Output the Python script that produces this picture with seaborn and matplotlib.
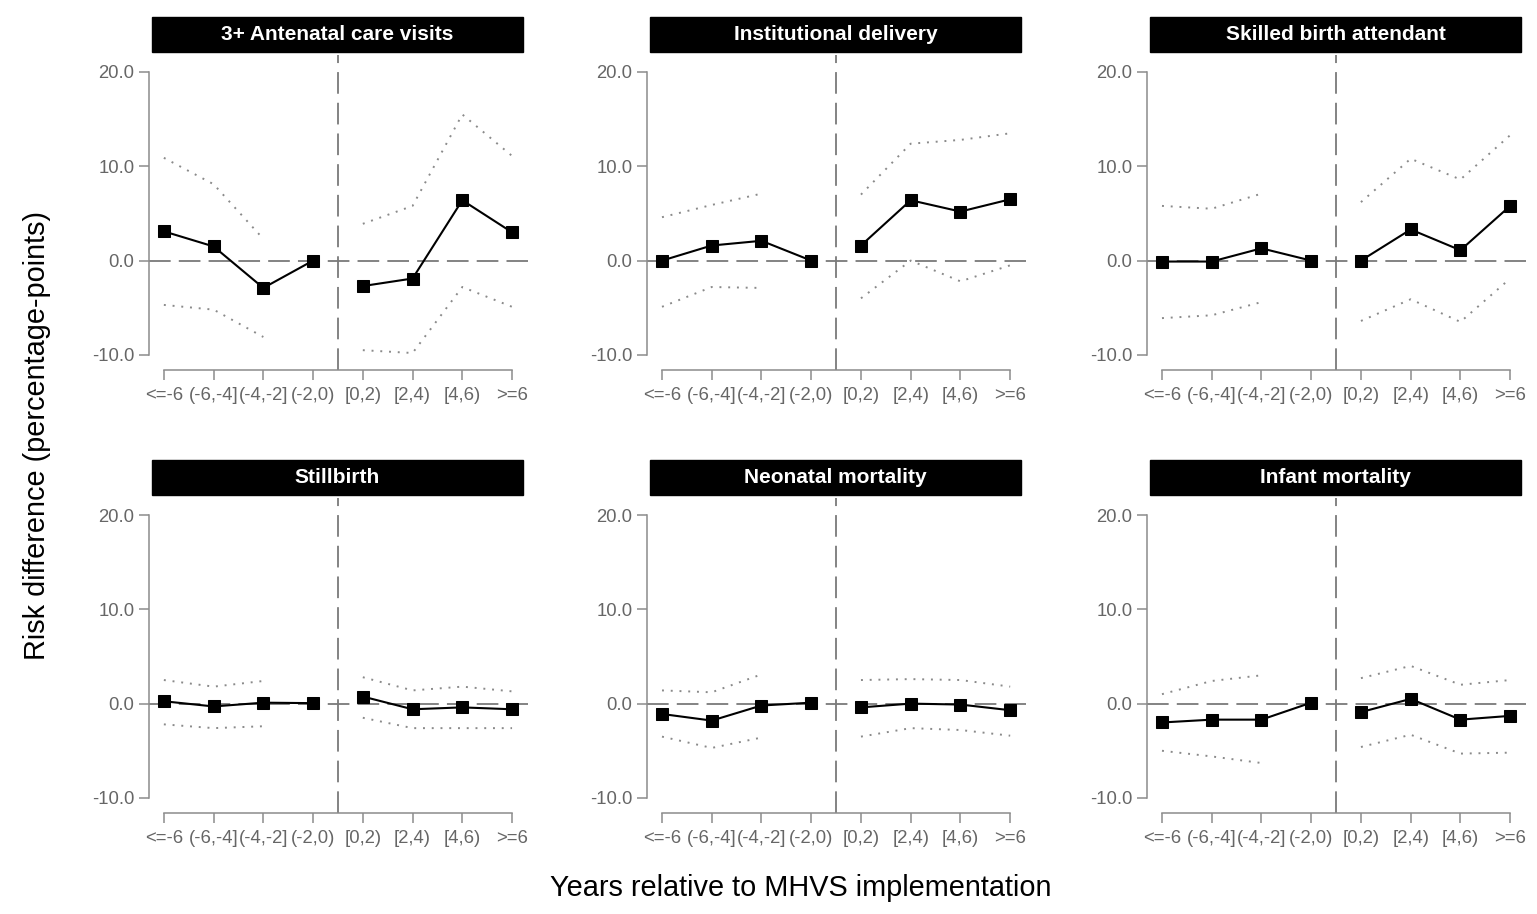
import numpy as np
import pandas as pd
import seaborn as sns
import matplotlib.pyplot as plt
from matplotlib.patches import Rectangle

periods = ['<=-6', '(-6,-4]', '(-4,-2]', '(-2,0)', '[0,2)', '[2,4)', '[4,6)', '>=6']
titles = ['3+ Antenatal care visits', 'Institutional delivery', 'Skilled birth attendant',
          'Stillbirth', 'Neonatal mortality', 'Infant mortality']
nan = np.nan

# point estimates (percentage points), (-2,0) is the reference period
anc_est = [3.1, 1.5, -2.9, 0.0, -2.7, -1.9, 6.4, 3.0]
anc_lo = [-4.7, -5.2, -8.1, nan, -9.5, -9.8, -2.8, -4.9]
anc_hi = [10.9, 8.1, 2.3, nan, 3.9, 5.8, 15.5, 11.1]

inst_est = [0.0, 1.6, 2.1, 0.0, 1.6, 6.4, 5.2, 6.5]
inst_lo = [-4.9, -2.8, -2.9, nan, -4.0, 0.0, -2.2, -0.5]
inst_hi = [4.6, 5.9, 7.1, nan, 7.0, 12.4, 12.8, 13.5]

sba_est = [-0.1, -0.1, 1.3, 0.0, 0.0, 3.3, 1.1, 5.8]
sba_lo = [-6.1, -5.8, -4.4, nan, -6.4, -4.1, -6.5, -1.9]
sba_hi = [5.8, 5.5, 7.1, nan, 6.2, 10.8, 8.6, 13.3]

still_est = [0.25, -0.3, 0.1, 0.05, 0.75, -0.6, -0.4, -0.6]
still_lo = [-2.2, -2.6, -2.4, nan, -1.5, -2.6, -2.6, -2.6]
still_hi = [2.5, 1.8, 2.4, nan, 2.8, 1.4, 1.8, 1.3]

neo_est = [-1.1, -1.8, -0.2, 0.1, -0.4, 0.0, -0.1, -0.7]
neo_lo = [-3.5, -4.7, -3.6, nan, -3.5, -2.6, -2.8, -3.4]
neo_hi = [1.4, 1.2, 3.1, nan, 2.5, 2.6, 2.5, 1.8]

inf_est = [-2.0, -1.7, -1.7, 0.1, -0.9, 0.5, -1.7, -1.3]
inf_lo = [-5.0, -5.6, -6.3, nan, -4.6, -3.3, -5.3, -5.2]
inf_hi = [1.0, 2.4, 3.0, nan, 2.7, 4.0, 2.0, 2.5]

series = [(anc_est, anc_lo, anc_hi), (inst_est, inst_lo, inst_hi), (sba_est, sba_lo, sba_hi),
          (still_est, still_lo, still_hi), (neo_est, neo_lo, neo_hi), (inf_est, inf_lo, inf_hi)]

rows = []
for t, (e, lo, hi) in zip(titles, series):
    for i, p in enumerate(periods):
        rows.append({'outcome': t, 'pos': i, 'period': p, 'est': e[i], 'lo': lo[i], 'hi': hi[i],
                     'phase': 'pre' if i < 4 else 'post'})
df = pd.DataFrame(rows)

sns.set_style('white')
plt.rcParams['font.family'] = ['Liberation Sans', 'DejaVu Sans']

fig = plt.figure(figsize=(15.37, 9.14), dpi=100)

lefts = [0.0969, 0.4210, 0.7463]
bottoms = [0.5952, 0.1105]
w, h = 0.2466, 0.3446
grey = '#8c8c8c'
ref = '#7a7a7a'

for k, t in enumerate(titles):
    ax = fig.add_axes([lefts[k % 3], bottoms[k // 3], w, h])
    d = df[df.outcome == t]

    # reference lines at zero effect and at implementation
    ax.axhline(0, color=ref, lw=1.3, linestyle=(0, (12, 4.5)), zorder=1)
    ax.axvline(3.5, color=ref, lw=1.3, linestyle=(0, (12, 5)), zorder=1)

    for col in ['lo', 'hi']:
        sns.lineplot(data=d, x='pos', y=col, units='phase', estimator=None, ax=ax,
                     color='#8a8a8a', lw=1.4, linestyle=(0, (1, 3.5)), legend=False, zorder=2)
    sns.lineplot(data=d, x='pos', y='est', units='phase', estimator=None, ax=ax,
                 color='black', lw=1.5, marker='s', markersize=8, markeredgecolor='black',
                 legend=False, zorder=3)

    ax.set_xlim(-0.30, 7.32)
    ax.set_ylim(-11.6, 21.8)
    ax.set_xticks(range(len(periods)))
    ax.set_xticklabels(periods)
    ax.set_yticks([-10, 0, 10, 20])
    ax.set_yticklabels(['-10.0', '0.0', '10.0', '20.0'])
    ax.set_xlabel('')
    ax.set_ylabel('')
    for s in ['top', 'right']:
        ax.spines[s].set_visible(False)
    for s in ['left', 'bottom']:
        ax.spines[s].set_color(grey)
        ax.spines[s].set_linewidth(1.1)
    ax.spines['left'].set_bounds(-10, 20)
    ax.spines['bottom'].set_bounds(0, 7)
    ax.tick_params(axis='both', direction='out', length=7, width=1.1, color=grey,
                   labelcolor='#666666', labelsize=13.3)
    ax.tick_params(axis='x', pad=5.5)
    ax.tick_params(axis='y', pad=3.5)
    ax.tick_params(left=True, bottom=True)

    ax.add_patch(Rectangle((0.008, 1.01), 0.979, 0.111, transform=ax.transAxes,
                           facecolor='black', edgecolor='black', clip_on=False))
    ax.text(0.4975, 1.066, t, transform=ax.transAxes, ha='center', va='center',
            color='white', fontsize=15, fontweight='bold')

fig.text(0.024, 0.524, 'Risk difference (percentage-points)', rotation=90,
         ha='center', va='center', fontsize=20.8, color='black')
fig.text(0.521, 0.028, 'Years relative to MHVS implementation',
         ha='center', va='center', fontsize=20.8, color='black')

fig.savefig('out.png', dpi=100, facecolor='white')
